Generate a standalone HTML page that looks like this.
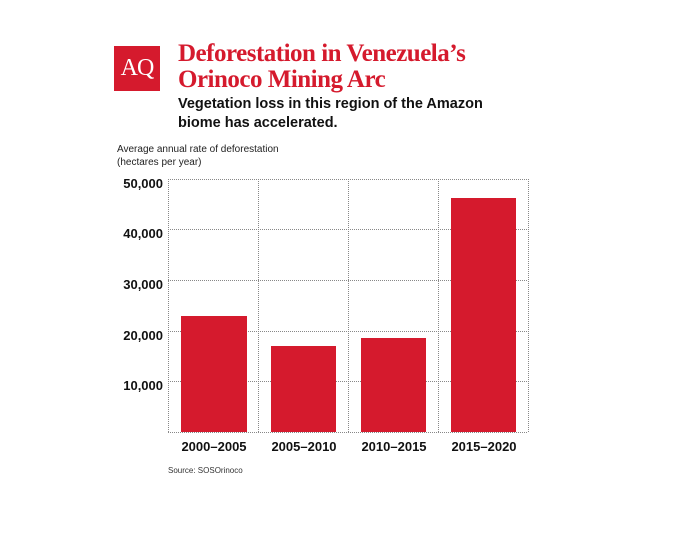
<!DOCTYPE html>
<html><head><style>
body{margin:0;width:681px;height:549px;background:#fff;position:relative;overflow:hidden;font-family:"Liberation Sans",sans-serif}
.a{position:absolute;white-space:nowrap}
</style></head><body>
<div class="a" style="left:114px;top:46px;width:46px;height:45px;background:#d51a2d;color:#fff;font-family:'Liberation Serif',serif;font-size:24px;line-height:45px;text-align:center;letter-spacing:-1px">AQ</div>
<div class="a" style="left:178px;top:41px;color:#d51a2d;font-family:'Liberation Serif',serif;font-weight:bold;font-size:25px;line-height:26px;letter-spacing:-0.5px">Deforestation in Venezuela’s<br>Orinoco Mining Arc</div>
<div class="a" style="left:178px;top:95px;font-weight:bold;font-size:14.5px;line-height:19px;color:#111">Vegetation loss in this region of the Amazon<br>biome has accelerated.</div>
<div class="a" style="left:117px;top:143px;font-size:10px;line-height:13px;color:#222">Average annual rate of deforestation<br>(hectares per year)</div>
<svg class="a" style="left:0;top:0" width="681" height="549">
<g stroke="#888" stroke-width="1" stroke-dasharray="1,1" fill="none">
<line x1="168" y1="179.5" x2="528" y2="179.5"/><line x1="168" y1="229.5" x2="528" y2="229.5"/><line x1="168" y1="280.5" x2="528" y2="280.5"/><line x1="168" y1="331.5" x2="528" y2="331.5"/><line x1="168" y1="381.5" x2="528" y2="381.5"/><line x1="168" y1="432.5" x2="528" y2="432.5"/>
<line x1="168.5" y1="179" x2="168.5" y2="432"/><line x1="258.5" y1="179" x2="258.5" y2="432"/><line x1="348.5" y1="179" x2="348.5" y2="432"/><line x1="438.5" y1="179" x2="438.5" y2="432"/><line x1="528.5" y1="179" x2="528.5" y2="432"/>
</g>
<g fill="#d51a2d">
<rect x="181" y="316" width="66" height="116"/><rect x="271" y="346" width="65" height="86"/><rect x="361" y="338" width="65" height="94"/><rect x="451" y="198" width="65" height="234"/>
</g>
<g font-family="Liberation Sans" font-weight="bold" font-size="13" fill="#111" text-anchor="end">
<text x="163" y="188">50,000</text><text x="163" y="238">40,000</text><text x="163" y="289">30,000</text><text x="163" y="340">20,000</text><text x="163" y="390">10,000</text>
</g>
<g font-family="Liberation Sans" font-weight="bold" font-size="13" fill="#111" text-anchor="middle">
<text x="214" y="451">2000–2005</text><text x="304" y="451">2005–2010</text><text x="394" y="451">2010–2015</text><text x="484" y="451">2015–2020</text>
</g>
<text x="168" y="473" font-family="Liberation Sans" font-size="8" fill="#333">Source: SOSOrinoco</text>
</svg>
</body></html>
